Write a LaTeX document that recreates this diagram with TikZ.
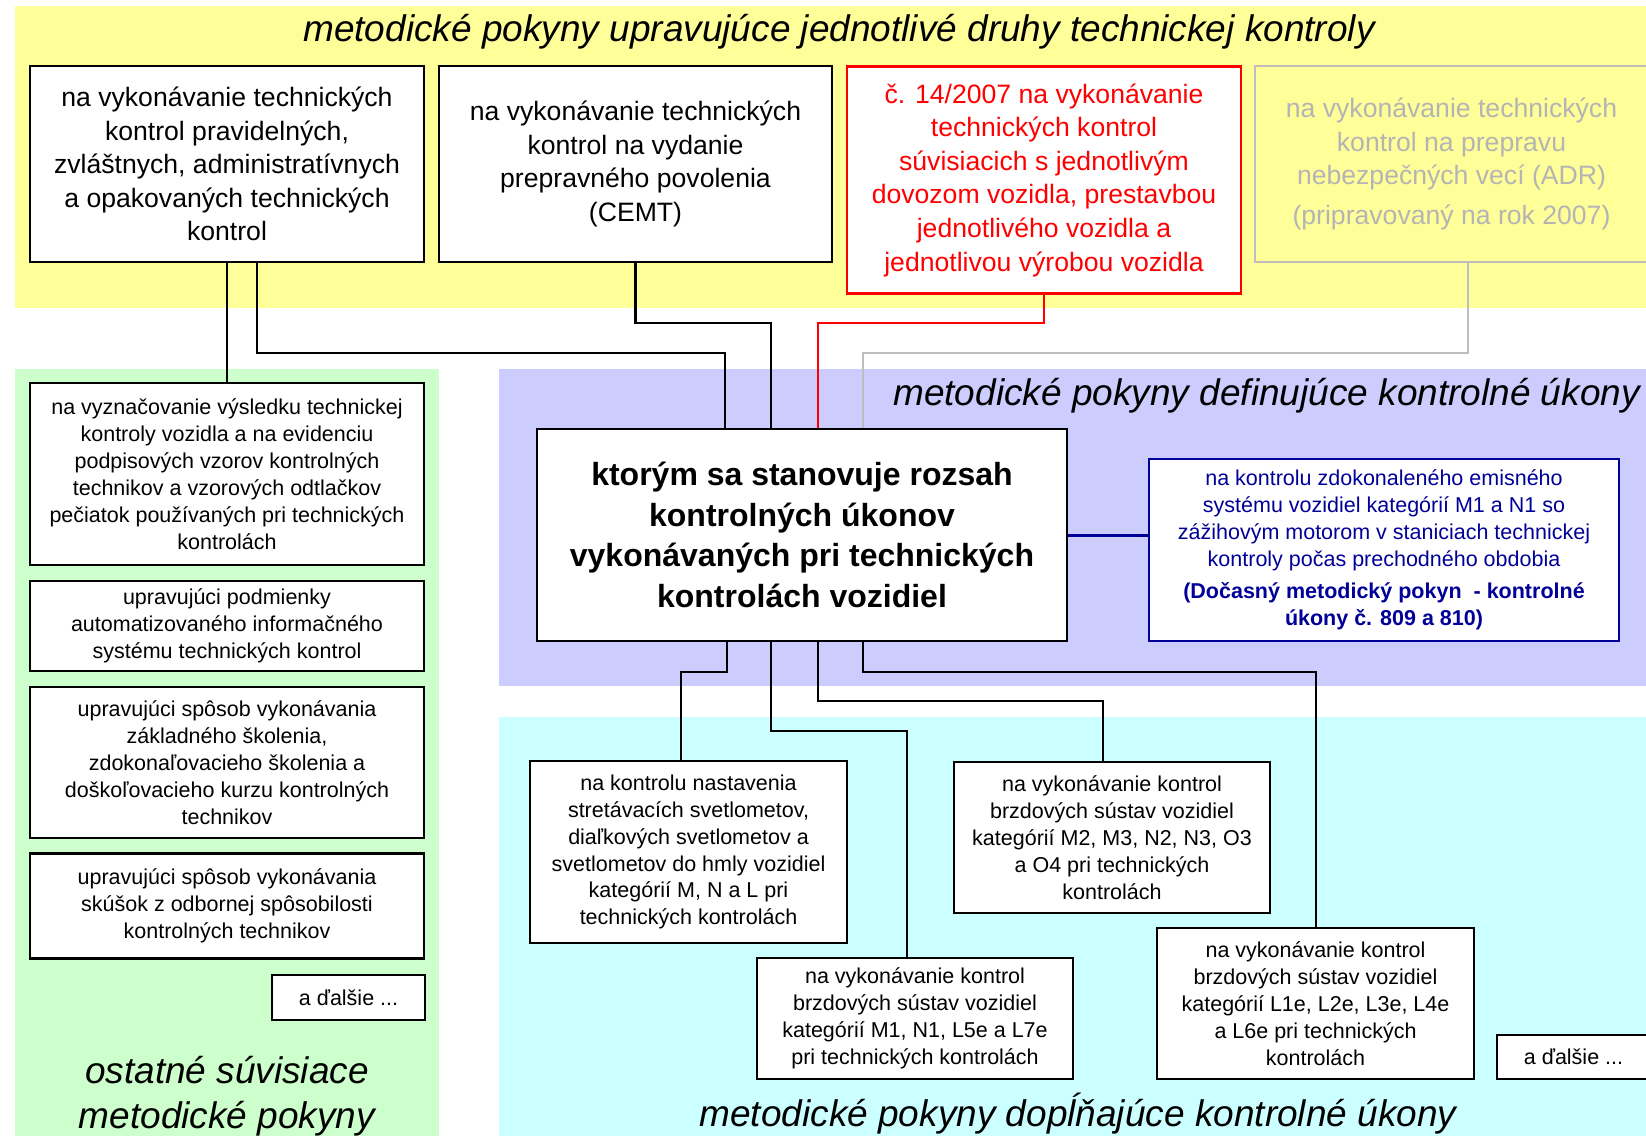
\documentclass[tikz,border=0pt]{standalone}
\usepackage{fontspec}
\setmainfont{Liberation Sans}
\definecolor{bgyellow}{HTML}{FFFF99}
\definecolor{bggreen}{HTML}{CCFFCC}
\definecolor{bglav}{HTML}{CCCCFF}
\definecolor{bgcyan}{HTML}{CCFFFF}
\definecolor{dblue}{HTML}{000099}
\definecolor{lgray}{HTML}{BEBEBE}
\definecolor{lgtext}{HTML}{B4B4B4}
\tikzset{
  box/.style={draw=black, line width=2.5pt, fill=white, inner sep=0pt, align=center, text=black},
  fbig/.style={font={\fontsize{26.6}{33.6}\selectfont}},
  fsmall/.style={font={\fontsize{21.5}{26.9}\selectfont}},
  fmain/.style={font={\fontsize{32}{40.6}\selectfont\bfseries}},
  ftitle/.style={font={\fontsize{37}{45}\selectfont\itshape}, inner sep=0pt},
  conn/.style={line width=2.5pt, draw=black},
}
\begin{document}
\begin{tikzpicture}[x=1pt, y=-1pt]
\useasboundingbox (0,0) rectangle (1646,1136);
\clip (0,0) rectangle (1646,1136);
\fill[white] (0,0) rectangle (1646,1136);
% bands
\fill[bgyellow] (15,6) rectangle (1646,308);
\fill[bggreen] (15,369) rectangle (439,1136);
\fill[bglav] (499,369) rectangle (1646,686);
\fill[bgcyan] (499,717) rectangle (1646,1136);
% titles
\node[ftitle, anchor=base] (T1) at (839,41) {metodické pokyny upravujúce jednotlivé druhy technickej kontroly};
\node[ftitle, anchor=base west] (T2) at (893,405) {metodické pokyny definujúce kontrolné úkony};
\node[ftitle, anchor=base] (T3) at (1078,1126) {metodické pokyny dopĺňajúce kontrolné úkony};
\node[ftitle, anchor=base] (T4) at (227,1083) {ostatné súvisiace};
\node[ftitle, anchor=base] (T5) at (227,1128) {metodické pokyny};
% top boxes
\node[box, fbig, minimum width=394pt, minimum height=196pt] (A) at (227,164)
  {na vykonávanie technických\\kontrol pravidelných,\\zvláštnych, administratívnych\\a opakovaných technických\\kontrol};
\node[box, fbig, minimum width=393pt, minimum height=196pt] (B) at (635.5,164)
  {na vykonávanie technických\\kontrol na vydanie\\prepravného povolenia\\(CEMT)};
\node[box, fbig, draw=red, text=red, minimum width=394pt, minimum height=227pt] (C) at (1044,180)
  {č. 14/2007 na vykonávanie\\technických kontrol\\súvisiacich s jednotlivým\\dovozom vozidla, prestavbou\\jednotlivého vozidla a\\jednotlivou výrobou vozidla};
\node[box, fbig, draw=lgray, fill=none, text=lgtext, minimum width=393pt, minimum height=196pt] (D) at (1451.5,164)
  {na vykonávanie technických\\kontrol na prepravu\\nebezpečných vecí (ADR)\\[6pt](pripravovaný na rok 2007)};
% main box
\node[box, fmain, minimum width=530pt, minimum height=212pt] (M) at (802,535)
  {ktorým sa stanovuje rozsah\\kontrolných úkonov\\vykonávaných pri technických\\kontrolách vozidiel};
\node[box, fsmall, draw=dblue, text=dblue, minimum width=470pt, minimum height=182pt] (E) at (1384,550)
  {na kontrolu zdokonaleného emisného\\systému vozidiel kategórií M1 a N1 so\\zážihovým motorom v staniciach technickej\\kontroly počas prechodného obdobia\\[5pt]\textbf{(Dočasný metodický pokyn~ - kontrolné}\\\textbf{úkony č. 809 a 810)}};
% green boxes
\node[box, fsmall, minimum width=394pt, minimum height=182pt] (G1) at (227,474)
  {na vyznačovanie výsledku technickej\\kontroly vozidla a na evidenciu\\podpisových vzorov kontrolných\\technikov a vzorových odtlačkov\\pečiatok používaných pri technických\\kontrolách};
\node[box, fsmall, minimum width=394pt, minimum height=90pt] (G2) at (227,626)
  {upravujúci podmienky\\automatizovaného informačného\\systému technických kontrol};
\node[box, fsmall, minimum width=394pt, minimum height=151pt] (G3) at (227,762.5)
  {upravujúci spôsob vykonávania\\základného školenia,\\zdokonaľovacieho školenia a\\doškoľovacieho kurzu kontrolných\\technikov};
\node[box, fsmall, minimum width=394pt, minimum height=105pt] (G4) at (227,906)
  {upravujúci spôsob vykonávania\\skúšok z odbornej spôsobilosti\\kontrolných technikov};
\node[box, fsmall, minimum width=153pt, minimum height=45pt] (G5) at (348.5,997.5) {a ďalšie ...};
% cyan boxes
\node[box, fsmall, minimum width=317pt, minimum height=182pt] (C1) at (688.5,852)
  {na kontrolu nastavenia\\stretávacích svetlometov,\\diaľkových svetlometov a\\svetlometov do hmly vozidiel\\kategórií M, N a L pri\\technických kontrolách};
\node[box, fsmall, minimum width=316pt, minimum height=121pt] (C2) at (915,1018.5)
  {na vykonávanie kontrol\\brzdových sústav vozidiel\\kategórií M1, N1, L5e a L7e\\pri technických kontrolách};
\node[box, fsmall, minimum width=316pt, minimum height=151pt] (C3) at (1112,837.5)
  {na vykonávanie kontrol\\brzdových sústav vozidiel\\kategórií M2, M3, N2, N3, O3\\a O4 pri technických\\kontrolách};
\node[box, fsmall, minimum width=317pt, minimum height=151pt] (C4) at (1315.5,1003.5)
  {na vykonávanie kontrol\\brzdových sústav vozidiel\\kategórií L1e, L2e, L3e, L4e\\a L6e pri technických\\kontrolách};
\node[box, fsmall, minimum width=153pt, minimum height=44pt] (C5) at (1573.5,1057) {a ďalšie ...};
% connectors top
\draw[conn] (A.south) -- (G1.north);
\draw[conn] (257,0 |- A.south) -- (257,353) -| (725,0 |- M.north);
\draw[conn] (B.south) |- (771,323) -- (771,0 |- M.north);
\draw[conn, draw=red] (C.south) |- (818,323) -- (818,0 |- M.north);
\draw[conn, draw=lgray] (1468,0 |- D.south) |- (863,353) -- (863,0 |- M.north);
\draw[line width=3pt, draw=dblue] (M.east) -- (M.east -| E.west);
% connectors bottom
\draw[conn] (727,0 |- M.south) |- (681,672) -- (681,0 |- C1.north);
\draw[conn] (771,0 |- M.south) |- (907,731) -- (907,0 |- C2.north);
\draw[conn] (818,0 |- M.south) |- (1103,701) -- (1103,0 |- C3.north);
\draw[conn] (863,0 |- M.south) |- (1316,672) -- (1316,0 |- C4.north);
\end{tikzpicture}
\end{document}
